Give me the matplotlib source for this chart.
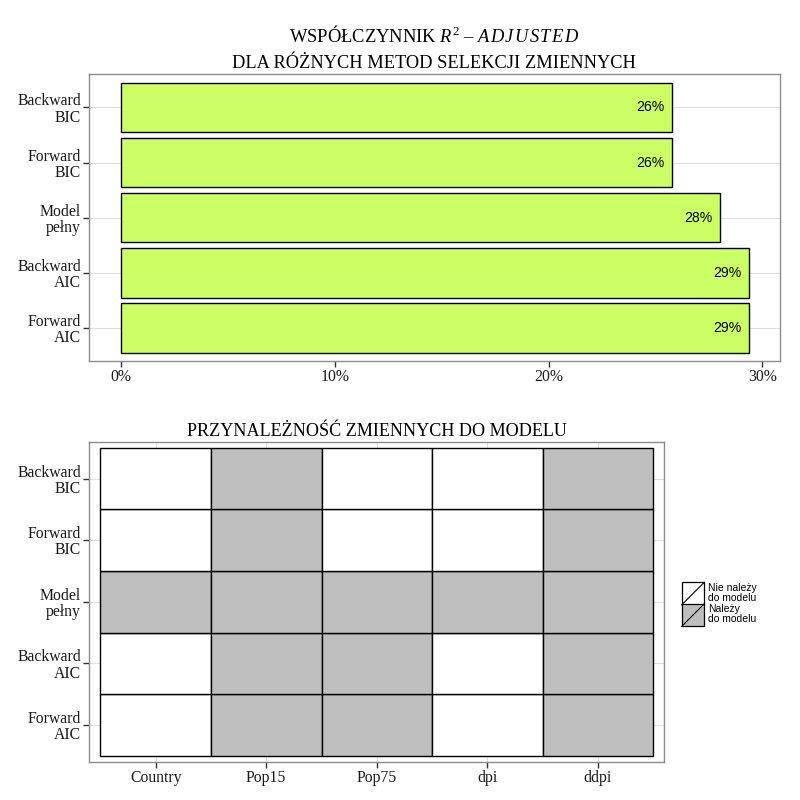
import numpy as np
import matplotlib
matplotlib.use('Agg')
import matplotlib.pyplot as plt
from matplotlib.patches import Rectangle
from matplotlib.lines import Line2D
from matplotlib.legend_handler import HandlerBase

plt.rcParams['font.family'] = ['Liberation Serif', 'DejaVu Serif']
plt.rcParams['mathtext.fontset'] = 'custom'
plt.rcParams['mathtext.rm'] = 'Liberation Serif'
plt.rcParams['mathtext.it'] = 'Liberation Serif:italic'

# data
methods = ['Forward\nAIC', 'Backward\nAIC', 'Model\npełny', 'Forward\nBIC', 'Backward\nBIC']
r2_adj = [29.35, 29.35, 28.0, 25.76, 25.76]
r2_labels = ['29%', '29%', '28%', '26%', '26%']
variables = ['Country', 'Pop15', 'Pop75', 'dpi', 'ddpi']
# 1 = zmienna należy do modelu
membership = [
    [0, 1, 1, 0, 1],   # Forward AIC
    [0, 1, 1, 0, 1],   # Backward AIC
    [1, 1, 1, 1, 1],   # Model pełny
    [0, 1, 0, 0, 1],   # Forward BIC
    [0, 1, 0, 0, 1],   # Backward BIC
]
legend_labels = ['Nie należy\ndo modelu', 'Należy\ndo modelu']

bar_col = '#CCFF66'
tile_cols = ['white', '#BEBEBE']
grid_col = '#DEDEDE'
border_col = '#8C8C8C'


def style_axes(ax):
    for s in ax.spines.values():
        s.set_color(border_col)
        s.set_linewidth(1.0)
    ax.tick_params(length=4, width=1, color='#333333', labelsize=11.3, labelcolor='#1a1a1a', pad=2)
    for t in ax.get_yticklabels():
        t.set_multialignment('right')
        t.set_linespacing(1.02)
    ax.set_axisbelow(True)


fig = plt.figure(figsize=(8, 8), dpi=100)

# top panel
ax1 = fig.add_axes([89.3 / 800, 1 - 361 / 800, 690.7 / 800, 286.7 / 800])
ypos = np.arange(1, len(methods) + 1)
ax1.barh(ypos, r2_adj, height=0.9, color=bar_col, edgecolor='black', linewidth=1.0)
for y, v, lab in zip(ypos, r2_adj, r2_labels):
    ax1.annotate(lab, (v, y), xytext=(-5, 0), textcoords='offset points',
                 ha='right', va='center', fontsize=10.2, family='Liberation Sans')
ax1.set_xlim(-1.47, 30.82)
ax1.set_ylim(0.4, 5.6)
ax1.set_yticks(ypos)
ax1.set_yticklabels(methods)
ax1.set_xticks([0, 10, 20, 30])
ax1.set_xticklabels(['0%', '10%', '20%', '30%'])
ax1.yaxis.grid(True, color=grid_col, linewidth=0.8)
style_axes(ax1)

fig.text(434 / 800, 1 - 36 / 800,
         r'WSPÓŁCZYNNIK $R^2$ – $A\hspace{0.1}D\hspace{0.1}J\hspace{0.1}U\hspace{0.1}S\hspace{0.1}T\hspace{0.1}E\hspace{0.1}D$',
         ha='center', va='center', fontsize=13.3)
fig.text(434 / 800, 1 - 63 / 800, 'DLA RÓŻNYCH METOD SELEKCJI ZMIENNYCH', ha='center', va='center', fontsize=13.2)

# bottom panel
ax2 = fig.add_axes([89.3 / 800, 1 - 762 / 800, 575 / 800, 320.3 / 800])
for i, row in enumerate(membership):
    for j, m in enumerate(row):
        ax2.add_patch(Rectangle((j + 0.5, i + 0.5), 1, 1, facecolor=tile_cols[m],
                                edgecolor='black', linewidth=1.0))
ax2.set_xlim(0.4, 5.6)
ax2.set_ylim(0.4, 5.6)
ax2.set_xticks(np.arange(1, len(variables) + 1))
ax2.set_xticklabels(variables)
ax2.set_yticks(ypos)
ax2.set_yticklabels(methods)
ax2.grid(True, color=grid_col, linewidth=0.8)
style_axes(ax2)
fig.text(377 / 800, 1 - 432 / 800, 'PRZYNALEŻNOŚĆ ZMIENNYCH DO MODELU', ha='center', va='center', fontsize=13.1)


class DiagHandler(HandlerBase):
    # kwadrat z przekątną, jak klucz geom_tile w ggplot
    def create_artists(self, legend, orig_handle, xdescent, ydescent, width, height, fontsize, trans):
        side = width
        y0 = -ydescent + (height - side) / 2
        r = Rectangle((-xdescent, y0), width, side, facecolor=orig_handle.get_facecolor(),
                      edgecolor='black', linewidth=0.9, transform=trans)
        l = Line2D([-xdescent, -xdescent + width], [y0, y0 + side],
                   color='black', linewidth=0.8, transform=trans)
        return [r, l]


handles = [Rectangle((0, 0), 1, 1, facecolor=c) for c in tile_cols]
leg = fig.legend(handles, legend_labels, handler_map={Rectangle: DiagHandler()},
                 loc='center left', bbox_to_anchor=(681.7 / 800, 1 - 604 / 800),
                 frameon=False, prop={'family': 'Liberation Sans', 'size': 7.5},
                 handlelength=2.17, handleheight=2.7, labelspacing=0.0,
                 handletextpad=0.33, borderaxespad=0, borderpad=0)
for t in leg.get_texts():
    t.set_linespacing(1.05)

fig.savefig('out.png', dpi=100)
